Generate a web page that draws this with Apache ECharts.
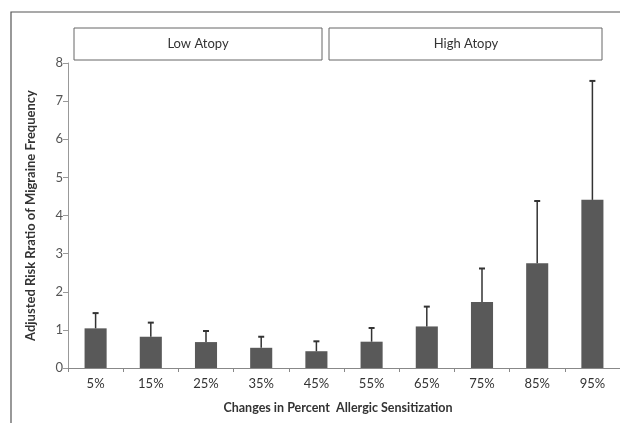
<!DOCTYPE html>
<html>
<head>
<meta charset="utf-8">
<script src="https://cdn.jsdelivr.net/npm/echarts@6/dist/echarts.min.js"></script>
<style>html,body{margin:0;padding:0;background:#fff}#c{width:620px;height:423px}</style>
</head>
<body>
<div id="c"></div>
<script>
const categories = ['5%','15%','25%','35%','45%','55%','65%','75%','85%','95%'];
const riskRatio = [1.04, 0.82, 0.68, 0.53, 0.44, 0.69, 1.09, 1.73, 2.75, 4.41];
const upperCI = [1.44, 1.19, 0.97, 0.82, 0.70, 1.05, 1.61, 2.61, 4.38, 7.53];
const yTicks = [0,1,2,3,4,5,6,7,8];
const groupLabels = ['Low Atopy', 'High Atopy'];

const FONT = 'Lato, "Open Sans", sans-serif';
const chart = echarts.init(document.getElementById('c'), null, {renderer:'canvas'});
chart.setOption({
  animation: false,
  backgroundColor: '#fff',
  grid: {left: 68, top: 63, bottom: 55, right: -2},
  xAxis: {
    type: 'category', data: categories,
    axisLine: {lineStyle: {color: '#888', width: 1}},
    axisTick: {show: true, length: 4, alignWithLabel: false, lineStyle: {color: '#888'}},
    axisLabel: {color: '#333', fontSize: 13, fontFamily: FONT, margin: 9},
    name: 'Changes in Percent  Allergic Sensitization',
    nameLocation: 'middle', nameGap: 33,
    nameTextStyle: {color: '#333', fontSize: 12.5, fontWeight: 'bold', fontFamily: FONT, padding: [0, 0, 0, -12]}
  },
  yAxis: {
    type: 'value', min: 0, max: 8, interval: 1,
    axisLine: {show: true, lineStyle: {color: '#999', width: 1}},
    axisTick: {show: true, length: 5, lineStyle: {color: '#999'}},
    splitLine: {show: false},
    axisLabel: {color: '#555', fontSize: 13, fontFamily: FONT, margin: 5,
      formatter: v => yTicks.includes(v) ? String(v) : ''},
    name: 'Adjusted Risk Rratio of Migraine Frequency',
    nameLocation: 'middle', nameGap: 31, nameRotate: 90,
    nameTextStyle: {color: '#333', fontSize: 13, fontWeight: 'bold', fontFamily: FONT}
  },
  series: [
    {
      type: 'bar', data: riskRatio, barWidth: '40%',
      itemStyle: {color: '#595959'}, z: 2
    },
    {
      type: 'custom', z: 3,
      data: categories.map((c, i) => [i, riskRatio[i], upperCI[i]]),
      renderItem: function (params, api) {
        const x = api.value(0);
        const top = api.coord([x, api.value(1)]);
        const hi = api.coord([x, api.value(2)]);
        const cap = 3;
        return {
          type: 'group',
          children: [
            {type: 'line', shape: {x1: top[0], y1: top[1], x2: hi[0], y2: hi[1]},
             style: {stroke: '#333', lineWidth: 1.5}},
            {type: 'line', shape: {x1: hi[0] - cap, y1: hi[1], x2: hi[0] + cap, y2: hi[1]},
             style: {stroke: '#333', lineWidth: 2}}
          ]
        };
      }
    }
  ],
  graphic: {elements: [
    {type: 'rect', x: 11, y: 12, shape: {x: 0, y: 0, width: 640, height: 440},
     style: {fill: 'none', stroke: '#555', lineWidth: 1.2}, silent: true},
    {type: 'rect', x: 74, y: 28, shape: {x: 0, y: 0, width: 248, height: 32},
     style: {fill: '#fff', stroke: '#666', lineWidth: 1}},
    {type: 'text', x: 198, y: 44,
     style: {text: groupLabels[0], fill: '#333', font: '13px ' + FONT, align: 'center', verticalAlign: 'middle'}},
    {type: 'rect', x: 329, y: 28, shape: {x: 0, y: 0, width: 273, height: 32},
     style: {fill: '#fff', stroke: '#666', lineWidth: 1}},
    {type: 'text', x: 466, y: 44,
     style: {text: groupLabels[1], fill: '#333', font: '13px ' + FONT, align: 'center', verticalAlign: 'middle'}}
  ]}
});
</script>
</body>
</html>
